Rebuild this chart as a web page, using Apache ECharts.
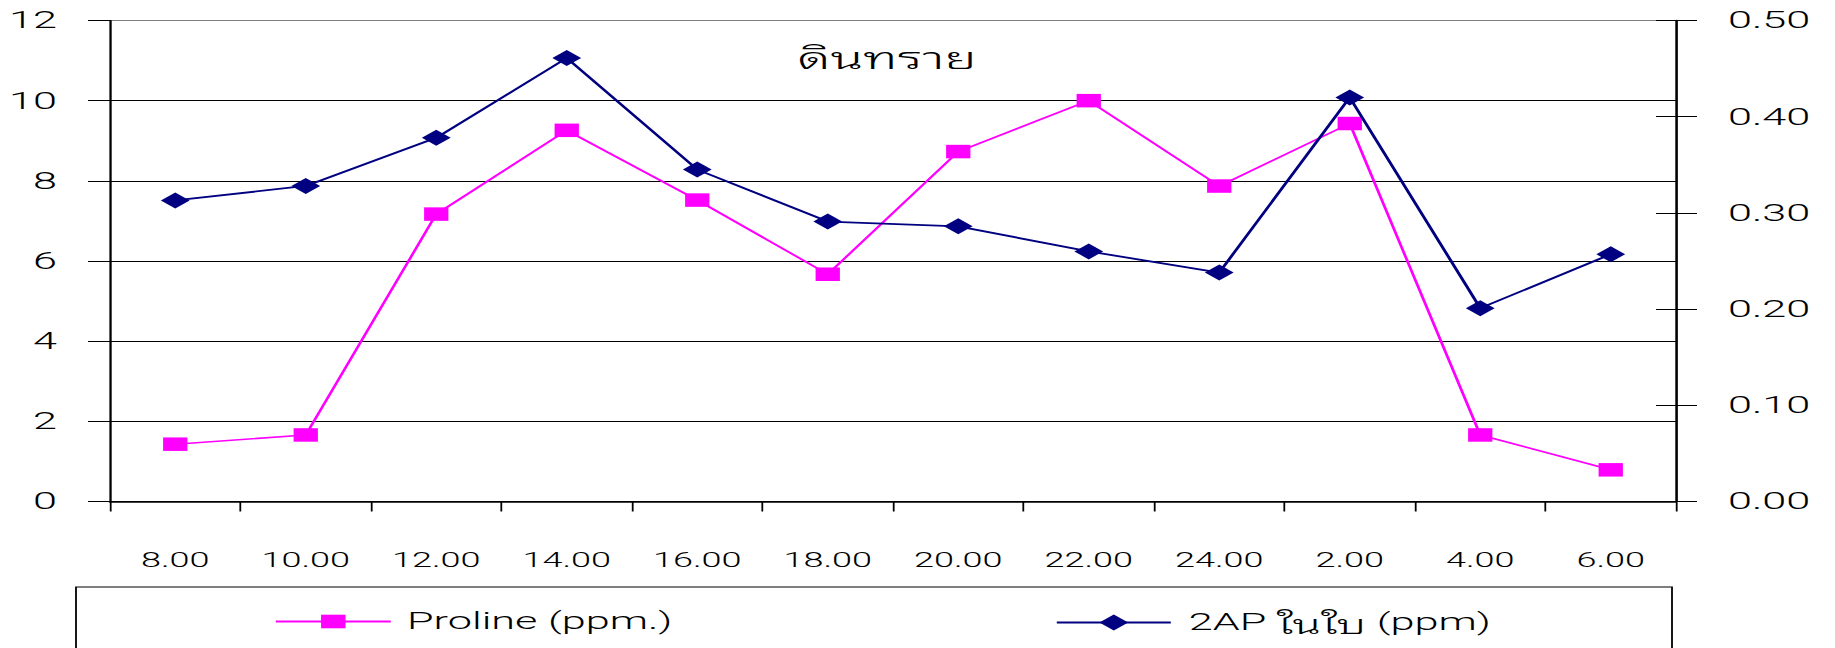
<!DOCTYPE html>
<html>
<head>
<meta charset="utf-8">
<script src="https://cdn.jsdelivr.net/npm/echarts@6/dist/echarts.min.js"></script>
<style>
  html, body { margin: 0; padding: 0; background: #fff; overflow: hidden; }
  #wrap { width: 1835px; height: 648px; overflow: hidden; position: relative; background: #fff; }
  #chart { position: absolute; left: 0; top: 0; height: 648px; transform-origin: 0 0; }
</style>
</head>
<body>
<div id="wrap"><div id="chart"></div></div>
<script>
// Sampling times (hour of day)
const hours = ['8.00', '10.00', '12.00', '14.00', '16.00', '18.00', '20.00', '22.00', '24.00', '2.00', '4.00', '6.00'];
// Proline content (ppm.), left axis
const proline = [1.43, 1.66, 7.17, 9.26, 7.52, 5.67, 8.73, 10.0, 7.87, 9.43, 1.66, 0.79];
// 2AP content in leaves (ppm), right axis
const ap2 = [0.313, 0.328, 0.378, 0.461, 0.345, 0.291, 0.286, 0.260, 0.238, 0.420, 0.201, 0.257];
// Axis ranges
const leftAxisRange = { min: 0, max: 12, interval: 2 };
const rightAxisRange = { min: 0, max: 0.5, interval: 0.1 };
const seriesNames = ['Proline (ppm.)', '2AP ในใบ (ppm)'];
const chartTitle = 'ดินทราย';

// The drawing is laid out on a narrower surface and stretched horizontally.
const S = 1.8;
const W = 1835 / S;
const H = 648;
const px = v => v / S;   // horizontal page px -> surface px

const el = document.getElementById('chart');
el.style.width = W + 'px';
el.style.transform = 'scaleX(' + S + ')';

const FONT = "Roboto, 'Liberation Sans', Arial, sans-serif";
const WEIGHT = 300;
const THAI_FONT = "'Noto Sans Thai Looped', 'Noto Sans Thai', Loma, Waree, Umpush, Garuda, Sawasdee, 'Liberation Sans', sans-serif";
const THAI_WEIGHT = 300;

const chart = echarts.init(el, null, { renderer: 'svg', width: W, height: H });

const gridLines = [];
for (let v = leftAxisRange.min; v <= leftAxisRange.max; v += leftAxisRange.interval) {
  gridLines.push(v === leftAxisRange.max ? '#808080' : '#000');
}

// Thai runs get their own font chain; Latin runs use the light face.
const thaiRun = /([\u0E00-\u0E7F]+)/g;
const legendFormatter = name => name.replace(thaiRun, '{th|$1}');

chart.setOption({
  backgroundColor: '#fff',
  animation: false,
  textStyle: { fontFamily: FONT, fontWeight: WEIGHT },
  grid: {
    left: px(110), right: W - px(1676), top: 20.5, bottom: H - 501.5,
    show: true, borderColor: '#808080', borderWidth: 1, containLabel: false
  },
  graphic: [
    {
      type: 'text', x: px(887), y: 55, z: 10,
      style: { text: chartTitle, fontSize: 30, fontFamily: THAI_FONT, fontWeight: THAI_WEIGHT, fill: '#000', align: 'center', verticalAlign: 'middle' }
    },
    {
      type: 'rect', z: 1,
      shape: { x: px(76), y: 587, width: px(1672 - 76), height: 120 },
      style: { fill: 'none', stroke: '#000', lineWidth: 1 }
    }
  ],
  legend: [
    {
      data: [seriesNames[0]], left: px(274), top: 609.5, padding: 0,
      itemWidth: px(389 - 274), itemHeight: 17,
      textStyle: { fontSize: 24, color: '#000', fontFamily: FONT, fontWeight: WEIGHT, padding: [0, 0, 0, 4] }
    },
    {
      data: [seriesNames[1]], left: px(1055), top: 609.5, padding: 0,
      itemWidth: px(1169 - 1055), itemHeight: 20,
      formatter: legendFormatter,
      textStyle: {
        fontSize: 24, color: '#000', fontFamily: FONT, fontWeight: WEIGHT, padding: [0, 0, 0, 5],
        rich: { th: { fontSize: 26, color: '#000', fontFamily: THAI_FONT, fontWeight: THAI_WEIGHT } }
      }
    }
  ],
  xAxis: {
    type: 'category', data: hours, boundaryGap: true,
    axisLine: { show: true, lineStyle: { color: '#000', width: 1.5 } },
    axisTick: { show: true, length: 10, lineStyle: { color: '#000', width: 1 } },
    axisLabel: { fontSize: 20, color: '#000', margin: 49, fontFamily: FONT, fontWeight: WEIGHT, interval: 0 },
    splitLine: { show: false }
  },
  yAxis: [
    {
      type: 'value', position: 'left',
      min: leftAxisRange.min, max: leftAxisRange.max, interval: leftAxisRange.interval,
      axisLine: { show: true, lineStyle: { color: '#000', width: 1.1 } },
      axisTick: { show: true, length: px(110 - 88), lineStyle: { color: '#000', width: 1 } },
      axisLabel: { fontSize: 24, color: '#000', margin: px(110 - 57), fontFamily: FONT, fontWeight: WEIGHT },
      splitLine: { show: true, lineStyle: { color: gridLines, width: 1 } }
    },
    {
      type: 'value', position: 'right',
      min: rightAxisRange.min, max: rightAxisRange.max, interval: rightAxisRange.interval,
      axisLine: { show: true, lineStyle: { color: '#000', width: 1.3 } },
      axisTick: { show: true, length: px(1697 - 1676), lineStyle: { color: '#000', width: 1 } },
      axisLabel: { fontSize: 24, color: '#000', margin: px(1728 - 1676), fontFamily: FONT, fontWeight: WEIGHT,
                   formatter: v => v.toFixed(2) },
      splitLine: { show: false }
    },
    {
      // inner half of the crossing ticks on the right axis
      type: 'value', position: 'right',
      min: rightAxisRange.min, max: rightAxisRange.max, interval: rightAxisRange.interval,
      axisLine: { show: false },
      axisTick: { show: true, inside: true, length: px(1676 - 1656), lineStyle: { color: '#000', width: 1 } },
      axisLabel: { show: false },
      splitLine: { show: false }
    }
  ],
  series: [
    {
      name: seriesNames[0], type: 'line', yAxisIndex: 0, data: proline,
      symbol: 'rect', symbolSize: [13.5, 13.5], showAllSymbol: true,
      lineStyle: { color: '#FF00FF', width: 1.6 },
      itemStyle: { color: '#FF00FF' },
      z: 3
    },
    {
      name: seriesNames[1], type: 'line', yAxisIndex: 1, data: ap2,
      symbol: 'diamond', symbolSize: [16, 16], showAllSymbol: true,
      lineStyle: { color: '#000080', width: 1.8 },
      itemStyle: { color: '#000080' },
      z: 4
    }
  ]
});
</script>
</body>
</html>
